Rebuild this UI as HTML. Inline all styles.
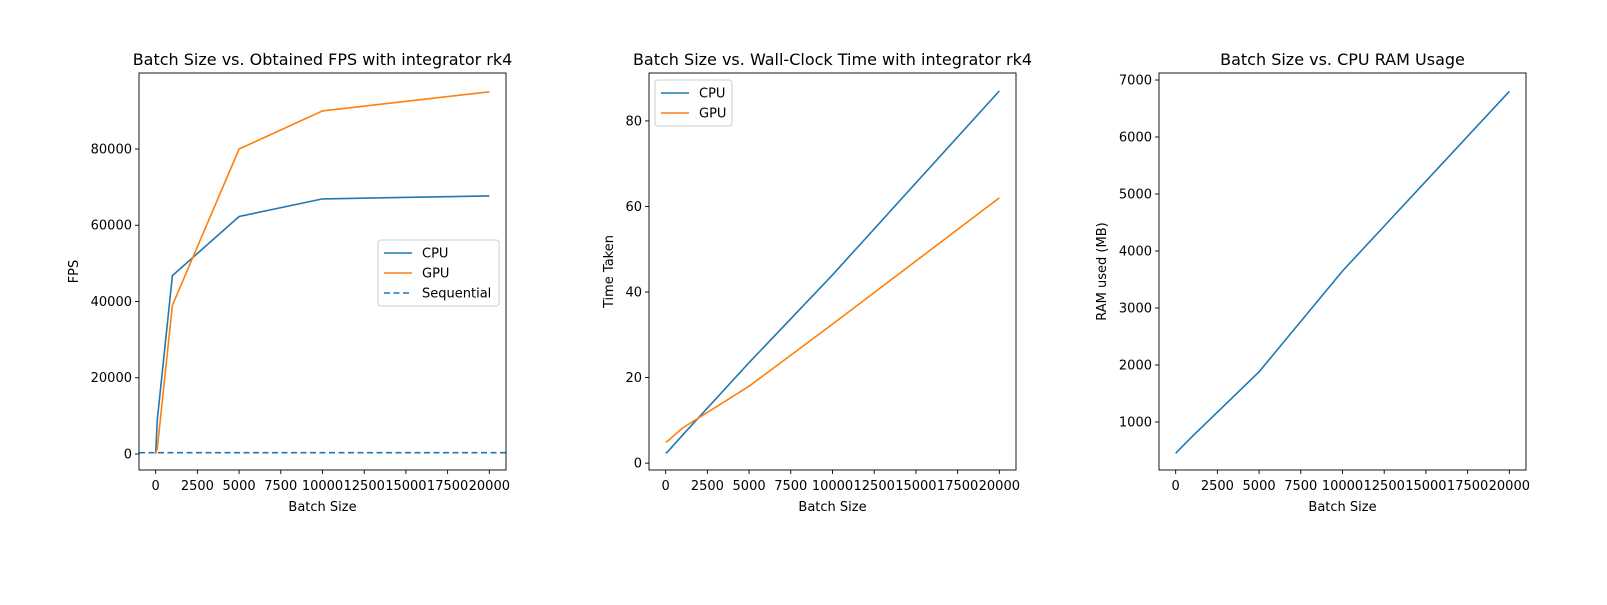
<!DOCTYPE html>
<html><head><meta charset="utf-8"><style>
body{margin:0;background:#fff}
svg text{font-family:"DejaVu Sans","Liberation Sans",sans-serif;fill:#000}
</style></head><body>
<svg id="fig" width="1607" height="600" xmlns="http://www.w3.org/2000/svg"></svg>
<script>
const batch=[1,100,1000,5000,10000,20000];
const fpsCPU=[400,9000,46800,62300,66900,67700];
const fpsGPU=[50,1500,39000,80000,90000,95000];
const fpsSeq=350;
const timeCPU=[2.3,2.6,6.5,23.5,44,87];
const timeGPU=[5,5.1,8.2,18,32.5,62];
const ram=[450,480,750,1880,3650,6800];
const xTicks=[0,2500,5000,7500,10000,12500,15000,17500,20000];
const fpsTicks=[0,20000,40000,60000,80000];
const timeTicks=[0,20,40,60,80];
const ramTicks=[1000,2000,3000,4000,5000,6000,7000];

const NS="http://www.w3.org/2000/svg";
const svg=document.getElementById('fig');
function el(t,a,p){const e=document.createElementNS(NS,t);for(const k in a)e.setAttribute(k,a[k]);(p||svg).appendChild(e);return e;}
function txt(s,a,p){const e=el('text',a,p);e.textContent=s;return e;}
const TOP=73,BOT=470;
function axes(name,x0,ymin,ymax,yT,title,ylabel,ylabelX){
  const g=el('g',{});
  
  
  const x1=x0+367;
  const sx=v=>x0+(v+1000)/22000*367;
  const sy=v=>BOT-(v-ymin)/(ymax-ymin)*(BOT-TOP);
  xTicks.forEach(t=>{const x=sx(t);el('line',{x1:x,x2:x,y1:BOT,y2:BOT+4,stroke:'#000','stroke-width':0.9},g);
    const l=txt(String(t),{x:x,y:BOT+20,'font-size':13,'text-anchor':'middle'},g);
    });
  yT.forEach(t=>{const y=sy(t);el('line',{x1:x0,x2:x0-4,y1:y,y2:y,stroke:'#000','stroke-width':0.9},g);
    const l=txt(String(t),{x:x0-7,y:y+4.5,'font-size':13,'text-anchor':'end'},g);
    });
  const xt=txt('Batch Size',{x:(x0+x1)/2,y:BOT+41,'font-size':13,'text-anchor':'middle'},g);
  
  const yt=txt(ylabel,{x:ylabelX,y:(TOP+BOT)/2,'font-size':13,'text-anchor':'middle',transform:`rotate(-90 ${ylabelX} ${(TOP+BOT)/2})`},g);
  
  const tt=txt(title,{x:(x0+x1)/2,y:TOP-8,'font-size':16,'text-anchor':'middle'},g);
  
  const cp=el('clipPath',{id:name+'-clip'},g);el('rect',{x:x0,y:TOP,width:367,height:BOT-TOP},cp);
  const lg=el('g',{'clip-path':`url(#${name}-clip)`},g);
  return {g,lg,sx,sy,x0,x1,finish(){el('rect',{x:x0,y:TOP,width:367,height:BOT-TOP,fill:'none',stroke:'#000','stroke-width':0.9},g);}};
}
function line(ax,xs,ys,color,name,dash){
  const d=xs.map((x,i)=>(i?'L':'M')+ax.sx(x).toFixed(1)+','+ax.sy(ys[i]).toFixed(1)).join('');
  const p=el('path',{d,fill:'none',stroke:color,'stroke-width':1.6,'stroke-dasharray':dash||'none'},ax.lg);
  
}
function legend(ax,x,y,w,items){
  const g=el('g',{},ax.g);
  
  el('rect',{x,y,width:w,height:items.length*20+6,rx:3,fill:'#fff','fill-opacity':0.8,stroke:'#ccc'},g);
  items.forEach((it,i)=>{const yy=y+13+i*20;
    el('line',{x1:x+6,x2:x+34,y1:yy,y2:yy,stroke:it[1],'stroke-width':1.6,'stroke-dasharray':it[2]||'none'},g);
    const t=txt(it[0],{x:x+44,y:yy+4.5,'font-size':13},g);
    });
}
const C1='#1f77b4',C2='#ff7f0e';
const a1=axes('fps-chart',139,-4200,99934,fpsTicks,'Batch Size vs. Obtained FPS with integrator rk4','FPS',78);
line(a1,[-1000,21000],[fpsSeq,fpsSeq],C1,'sequential-line','6,3.5');
line(a1,batch,fpsCPU,C1,'cpu-line');
line(a1,batch,fpsGPU,C2,'gpu-line');
a1.finish();
legend(a1,378,240,121,[['CPU',C1],['GPU',C2],['Sequential',C1,'6,3.5']]);
const a2=axes('time-chart',649,-1.6,91.2,timeTicks,'Batch Size vs. Wall-Clock Time with integrator rk4','Time Taken',613);
line(a2,batch,timeCPU,C1,'cpu-line');
line(a2,batch,timeGPU,C2,'gpu-line');
a2.finish();
legend(a2,655,80,77,[['CPU',C1],['GPU',C2]]);
const a3=axes('ram-chart',1159,158,7123,ramTicks,'Batch Size vs. CPU RAM Usage','RAM used (MB)',1106);
line(a3,batch,ram,C1,'ram-line');
a3.finish();
</script>
</body></html>
